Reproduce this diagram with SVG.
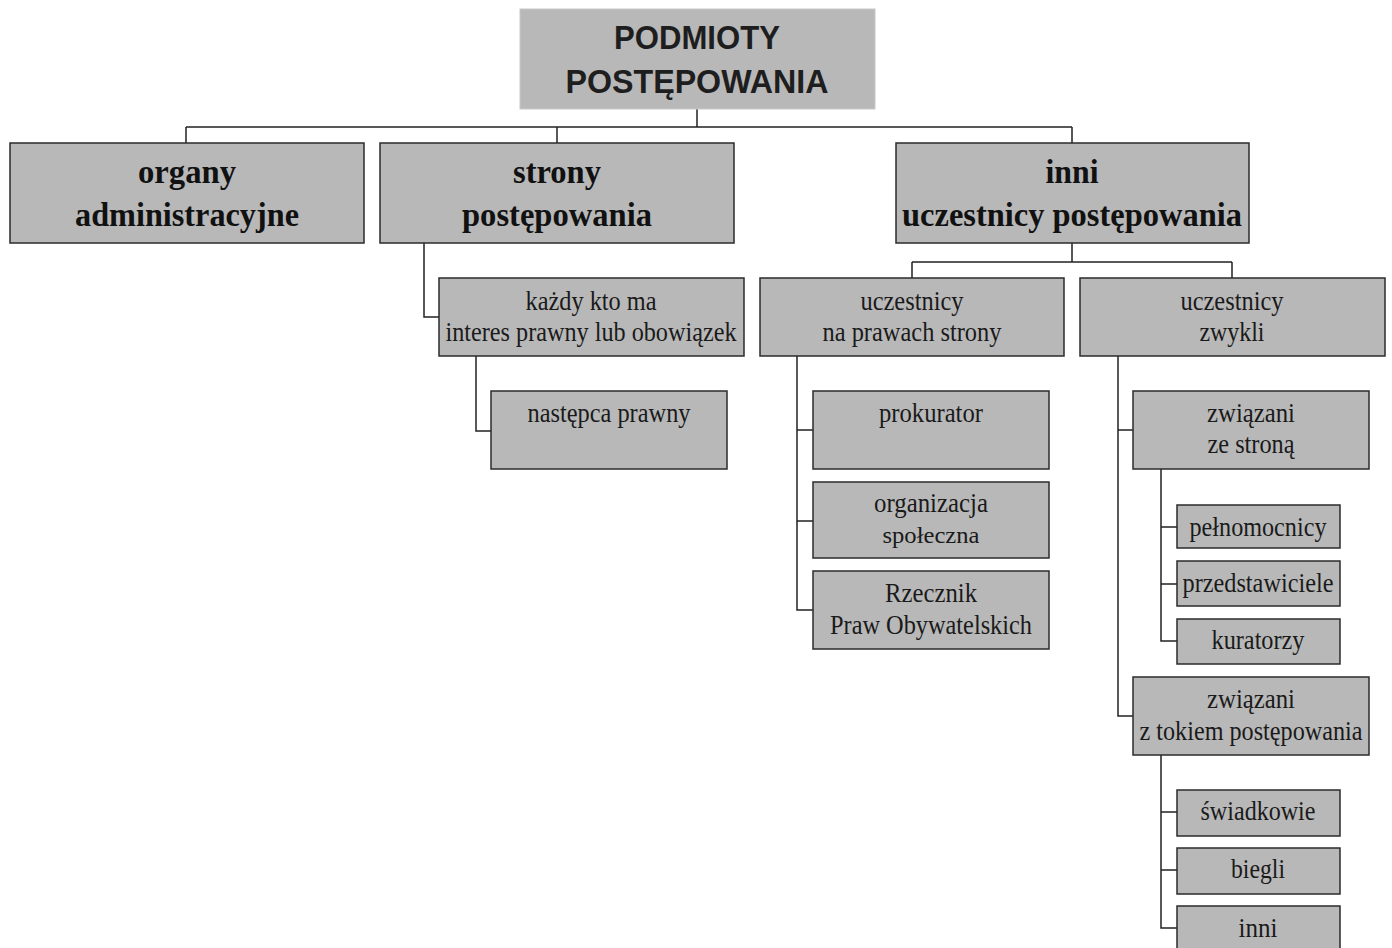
<svg xmlns="http://www.w3.org/2000/svg" width="1392" height="948" viewBox="0 0 1392 948">
<style>
.bg{fill:#ffffff}
.box{fill:#b8b8b8;stroke:#2b2b2b;stroke-width:1.5}
.top{fill:#b8b8b8;stroke:#c8c8c8;stroke-width:1}
.conn{fill:none;stroke:#222222;stroke-width:1.5}
.t0{font-family:"Liberation Sans",Arial,sans-serif;font-weight:bold;font-size:34px;fill:#1e1e1e;text-anchor:middle}
.t1{font-family:"Liberation Serif","Times New Roman",serif;font-weight:bold;font-size:33px;fill:#111111;text-anchor:middle}
.t2{font-family:"Liberation Serif","Times New Roman",serif;font-size:27px;fill:#1a1a1a;text-anchor:middle}
.t3{font-family:"Liberation Serif","Times New Roman",serif;font-size:23px;fill:#1a1a1a;text-anchor:middle}
</style>
<rect class="bg" x="0" y="0" width="1392" height="948"/>
<g id="connectors">
<path class="conn" d="M697,109 V127 M186,127 H1072 M186,127 V143 M557,127 V143 M1072,127 V143"/>
<path class="conn" d="M424,243 V317 H439"/>
<path class="conn" d="M476,356 V431 H491"/>
<path class="conn" d="M1072,243 V262 M912,262 H1232 M912,262 V278 M1232,262 V278"/>
<path class="conn" d="M797,356 V610 H813 M797,430 H813 M797,521 H813"/>
<path class="conn" d="M1118,356 V716 H1133 M1118,430 H1133"/>
<path class="conn" d="M1161,469 V641 H1177 M1161,527 H1177 M1161,584 H1177"/>
<path class="conn" d="M1161,755 V928 H1177 M1161,812 H1177 M1161,870 H1177"/>
</g>
<g id="n-podmioty">
<rect class="top" x="520" y="9" width="355" height="100"/>
<text class="t0" x="697" y="49" textLength="166" lengthAdjust="spacingAndGlyphs">PODMIOTY</text>
<text class="t0" x="697" y="93" textLength="263" lengthAdjust="spacingAndGlyphs">POSTĘPOWANIA</text>
</g>
<g id="n-organy">
<rect class="box" x="10" y="143" width="354" height="100"/>
<text class="t1" x="187" y="183" textLength="98" lengthAdjust="spacingAndGlyphs">organy</text>
<text class="t1" x="187" y="226" textLength="224" lengthAdjust="spacingAndGlyphs">administracyjne</text>
</g>
<g id="n-strony">
<rect class="box" x="380" y="143" width="354" height="100"/>
<text class="t1" x="557" y="183" textLength="88" lengthAdjust="spacingAndGlyphs">strony</text>
<text class="t1" x="557" y="226" textLength="190" lengthAdjust="spacingAndGlyphs">postępowania</text>
</g>
<g id="n-inni-uczestnicy">
<rect class="box" x="896" y="143" width="353" height="100"/>
<text class="t1" x="1072" y="183" textLength="53" lengthAdjust="spacingAndGlyphs">inni</text>
<text class="t1" x="1072" y="226" textLength="340" lengthAdjust="spacingAndGlyphs">uczestnicy postępowania</text>
</g>
<g id="n-kazdy">
<rect class="box" x="439" y="278" width="305" height="78"/>
<text class="t2" x="591" y="310" textLength="131" lengthAdjust="spacingAndGlyphs">każdy kto ma</text>
<text class="t2" x="591" y="341" textLength="291" lengthAdjust="spacingAndGlyphs">interes prawny lub obowiązek</text>
</g>
<g id="n-nastepca">
<rect class="box" x="491" y="391" width="236" height="78"/>
<text class="t2" x="609" y="422" textLength="163" lengthAdjust="spacingAndGlyphs">następca prawny</text>
</g>
<g id="n-na-prawach">
<rect class="box" x="760" y="278" width="304" height="78"/>
<text class="t2" x="912" y="310" textLength="103" lengthAdjust="spacingAndGlyphs">uczestnicy</text>
<text class="t2" x="912" y="341" textLength="179" lengthAdjust="spacingAndGlyphs">na prawach strony</text>
</g>
<g id="n-zwykli">
<rect class="box" x="1080" y="278" width="305" height="78"/>
<text class="t2" x="1232" y="310" textLength="103" lengthAdjust="spacingAndGlyphs">uczestnicy</text>
<text class="t2" x="1232" y="341" textLength="65" lengthAdjust="spacingAndGlyphs">zwykli</text>
</g>
<g id="n-prokurator">
<rect class="box" x="813" y="391" width="236" height="78"/>
<text class="t2" x="931" y="422" textLength="104" lengthAdjust="spacingAndGlyphs">prokurator</text>
</g>
<g id="n-organizacja">
<rect class="box" x="813" y="482" width="236" height="76"/>
<text class="t2" x="931" y="512" textLength="114" lengthAdjust="spacingAndGlyphs">organizacja</text>
<text class="t3" x="931" y="543" textLength="97" lengthAdjust="spacingAndGlyphs">społeczna</text>
</g>
<g id="n-rzecznik">
<rect class="box" x="813" y="571" width="236" height="78"/>
<text class="t2" x="931" y="602" textLength="92" lengthAdjust="spacingAndGlyphs">Rzecznik</text>
<text class="t2" x="931" y="634" textLength="202" lengthAdjust="spacingAndGlyphs">Praw Obywatelskich</text>
</g>
<g id="n-zwiazani-strona">
<rect class="box" x="1133" y="391" width="236" height="78"/>
<text class="t2" x="1251" y="422" textLength="88" lengthAdjust="spacingAndGlyphs">związani</text>
<text class="t2" x="1251" y="453" textLength="87" lengthAdjust="spacingAndGlyphs">ze stroną</text>
</g>
<g id="n-pelnomocnicy">
<rect class="box" x="1177" y="505" width="163" height="43"/>
<text class="t2" x="1258" y="536" textLength="137" lengthAdjust="spacingAndGlyphs">pełnomocnicy</text>
</g>
<g id="n-przedstawiciele">
<rect class="box" x="1177" y="561" width="163" height="45"/>
<text class="t2" x="1258" y="592" textLength="151" lengthAdjust="spacingAndGlyphs">przedstawiciele</text>
</g>
<g id="n-kuratorzy">
<rect class="box" x="1177" y="619" width="163" height="45"/>
<text class="t2" x="1258" y="649" textLength="93" lengthAdjust="spacingAndGlyphs">kuratorzy</text>
</g>
<g id="n-zwiazani-tok">
<rect class="box" x="1133" y="677" width="236" height="78"/>
<text class="t2" x="1251" y="708" textLength="88" lengthAdjust="spacingAndGlyphs">związani</text>
<text class="t2" x="1251" y="740" textLength="223" lengthAdjust="spacingAndGlyphs">z tokiem postępowania</text>
</g>
<g id="n-swiadkowie">
<rect class="box" x="1177" y="790" width="163" height="46"/>
<text class="t2" x="1258" y="820" textLength="115" lengthAdjust="spacingAndGlyphs">świadkowie</text>
</g>
<g id="n-biegli">
<rect class="box" x="1177" y="848" width="163" height="46"/>
<text class="t2" x="1258" y="878" textLength="54" lengthAdjust="spacingAndGlyphs">biegli</text>
</g>
<g id="n-inni">
<rect class="box" x="1177" y="906" width="163" height="50"/>
<text class="t2" x="1258" y="937" textLength="39" lengthAdjust="spacingAndGlyphs">inni</text>
</g>
</svg>
